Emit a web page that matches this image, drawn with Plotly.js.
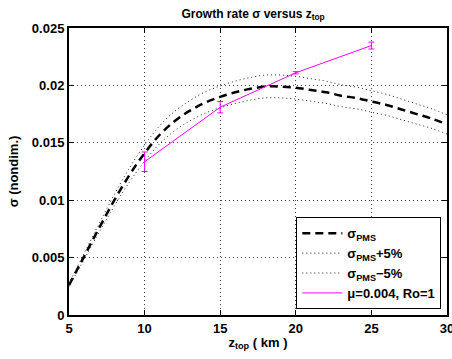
<!DOCTYPE html>
<html><head><meta charset="utf-8">
<script src="https://cdn.plot.ly/plotly-3.0.1.min.js"></script>
<style>html,body{margin:0;padding:0;background:#fff}#c{width:452px;height:359px}</style>
</head><body><div id="c"></div>
<script>
const zTop = [5,6,7,8,9,10,11,12,13,14,15,16,17,18,19,20,21,22,23,24,25,26,27,28,29,30];
const sigmaPMS = [0.0026,0.0051,0.0076,0.0100,0.0122,0.0141,0.0157,0.0169,0.0178,0.0185,0.0190,0.0194,0.0197,0.0199,0.0199,0.0198,0.0196,0.0194,0.0191,0.0189,0.0186,0.0183,0.0179,0.0175,0.0171,0.0166];
const sigmaPlus5 = [0.00273,0.00536,0.00798,0.01050,0.01281,0.01481,0.01649,0.01775,0.01869,0.01943,0.01995,0.02037,0.02069,0.02090,0.02090,0.02079,0.02058,0.02037,0.02006,0.01985,0.01953,0.01922,0.01880,0.01838,0.01796,0.01743];
const sigmaMinus5 = [0.00247,0.00485,0.00722,0.00950,0.01159,0.01340,0.01492,0.01606,0.01691,0.01758,0.01805,0.01843,0.01872,0.01891,0.01891,0.01881,0.01862,0.01843,0.01815,0.01796,0.01767,0.01739,0.01701,0.01663,0.01625,0.01577];
const zSim = [10,15,20,25];
const sigmaSim = [0.01335,0.0181,0.0211,0.02347];
const sigmaErr = [0.00085,0.0005,0.0001,0.0003];
const xTicks = [5,10,15,20,25,30];
const yTicks = [0,0.005,0.01,0.015,0.02,0.025];
const yTickText = ['0','0.005','0.01','0.015','0.02','0.025'];

const F = 'Liberation Sans, Arial, sans-serif';
const traces = [
  {x:zTop,y:sigmaPMS,mode:'lines',name:'σ<sub>PMS</sub>',line:{color:'#000',width:2.5,dash:'8px,5px',shape:'spline'}},
  {x:zTop,y:sigmaPlus5,mode:'lines',name:'σ<sub>PMS</sub>+5%',line:{color:'#222',width:1,dash:'1px,3px',shape:'spline'}},
  {x:zTop,y:sigmaMinus5,mode:'lines',name:'σ<sub>PMS</sub>−5%',line:{color:'#222',width:1,dash:'1px,3px',shape:'spline'}},
  {x:zSim,y:sigmaSim,mode:'lines',name:'μ=0.004, Ro=1',line:{color:'#ff00ff',width:1},
   error_y:{type:'data',array:sigmaErr,visible:true,color:'#ff00ff',thickness:1,width:3}}
];
const ax = {
  showline:true,linecolor:'#000',linewidth:2,mirror:'ticks',ticks:'inside',ticklen:5,tickcolor:'#000',
  showgrid:true,gridcolor:'#444',griddash:'1px,3px',gridwidth:1,zeroline:false,ticklabeloverflow:'allow',
  tickfont:{family:F,size:13,color:'#000',weight:'bold'}
};
const layout = {
  width:452,height:359,margin:{l:69,r:5,t:28,b:44},
  paper_bgcolor:'#fff',plot_bgcolor:'#fff',showlegend:true,
  title:{text:'Growth rate σ versus z<sub>top</sub>',font:{family:F,size:12,color:'#000',weight:'bold'},
    x:0.56,xanchor:'center',y:0.962,yref:'container',yanchor:'middle'},
  xaxis:Object.assign({},ax,{range:[5,30],tickvals:xTicks,ticktext:xTicks.map(String),
    title:{text:'z<sub>top</sub> ( km )',font:{family:F,size:13,color:'#000',weight:'bold'},standoff:3}}),
  yaxis:Object.assign({},ax,{range:[0,0.025],tickvals:yTicks,ticktext:yTickText,
    title:{text:'σ (nondim.)',font:{family:F,size:13,color:'#000',weight:'bold'},standoff:10}}),
  legend:{x:0.985,xanchor:'right',y:0.02,yanchor:'bottom',bgcolor:'#fff',bordercolor:'#000',borderwidth:1,
    font:{family:F,size:13,color:'#000',weight:'bold'},tracegroupgap:0,itemwidth:40}
};
Plotly.newPlot('c',traces,layout,{staticPlot:true,displayModeBar:false});
</script></body></html>
